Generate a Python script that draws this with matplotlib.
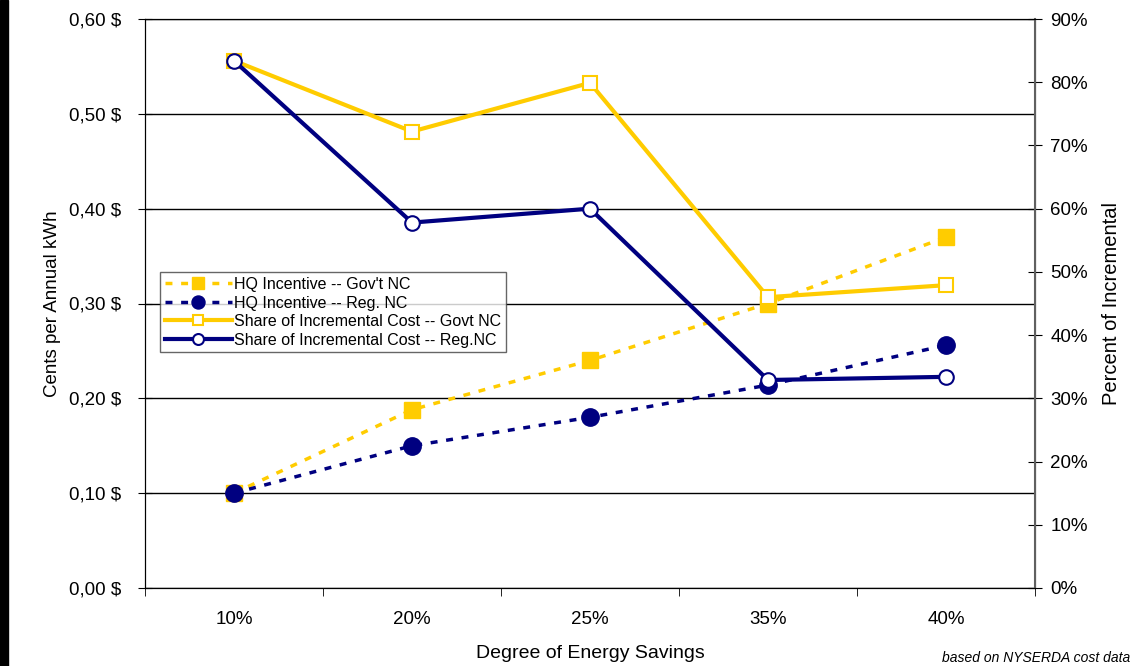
import numpy as np
import matplotlib
matplotlib.use("Agg")
import matplotlib.pyplot as plt
from matplotlib.ticker import FuncFormatter
from matplotlib.patches import Rectangle

plt.rcParams['font.family'] = ['Liberation Sans', 'DejaVu Sans']

savings = ['10%', '20%', '25%', '35%', '40%']
hq_gov = [0.10, 0.188, 0.24, 0.30, 0.37]
hq_reg = [0.10, 0.15, 0.18, 0.214, 0.256]
share_gov = [83.4, 72.2, 79.9, 46.0, 47.9]
share_reg = [83.4, 57.8, 60.0, 32.9, 33.4]

gold = '#FFCC00'
navy = '#000080'

fig = plt.figure(figsize=(11.45, 6.66), dpi=100)
ax = fig.add_axes([145 / 1145, 78 / 666, 890 / 1145, 569 / 666])
ax2 = ax.twinx()

x = np.arange(len(savings))

# incentives on the left axis ($ per annual kWh)
ax.plot(x, hq_gov, color=gold, lw=2.5, ls=(0, (2, 2.5)), marker='s', ms=12,
        mec=gold, mfc=gold, label="HQ Incentive -- Gov't NC", zorder=3)
ax.plot(x, hq_reg, color=navy, lw=2.5, ls=(0, (2, 2.5)), marker='o', ms=12.5,
        mec=navy, mfc=navy, label='HQ Incentive -- Reg. NC', zorder=3)

# share of incremental cost on the right axis
ax2.plot(x, share_gov, color=gold, lw=3, marker='s', ms=10.5, mfc='white',
         mec=gold, mew=1.5, label='Share of Incremental Cost -- Govt NC')
ax2.plot(x, share_reg, color=navy, lw=3, marker='o', ms=10.5, mfc='white',
         mec=navy, mew=1.5, label='Share of Incremental Cost -- Reg.NC')

ax.set_xlim(-0.5, len(savings) - 0.5)
ax.set_ylim(0, 0.6)
ax2.set_ylim(0, 90)

ax.set_yticks(np.arange(0, 0.61, 0.1))
ax.yaxis.set_major_formatter(FuncFormatter(lambda v, p: f"{v:.2f} $".replace('.', ',')))
ax2.set_yticks(np.arange(0, 91, 10))
ax2.yaxis.set_major_formatter(FuncFormatter(lambda v, p: f"{v:.0f}%"))

ax.set_xticks(x)
ax.set_xticklabels(savings)
ax.set_xticks(np.arange(-0.5, len(savings)), minor=True)
ax.tick_params(axis='x', which='major', length=0, pad=16.5, labelsize=13.5)
ax.tick_params(axis='x', which='minor', length=6, direction='out')
ax.tick_params(axis='y', direction='inout', length=10, labelsize=13.5, pad=12)
ax2.tick_params(axis='y', direction='inout', length=10, labelsize=13.5, pad=6)

ax.grid(axis='y', color='black', lw=1)
ax.set_axisbelow(True)
for sp in ax.spines.values():
    sp.set_color('black')
ax2.spines['right'].set_color('#606060')
ax2.spines['right'].set_linewidth(1.5)

ax.set_xlabel('Degree of Energy Savings', fontsize=14, labelpad=12)
ax.set_ylabel('Cents per Annual kWh', fontsize=13.5, labelpad=6)
ax2.set_ylabel('Percent of Incremental', fontsize=14.5, labelpad=10)

h1, l1 = ax.get_legend_handles_labels()
h2, l2 = ax2.get_legend_handles_labels()
leg = ax2.legend(h1 + h2, l1 + l2, loc='upper left', bbox_to_anchor=(0.017, 0.555),
                 fontsize=11.5, frameon=True, fancybox=False, edgecolor='#404040',
                 handlelength=4.2, handletextpad=0.1, labelspacing=0.22,
                 borderpad=0.3, borderaxespad=0, markerscale=0.75)
leg.get_frame().set_linewidth(1)

fig.text(0.987, 0.002, 'based on NYSERDA cost data', ha='right', va='bottom',
         fontsize=10, style='italic')

fig.patches.append(Rectangle((0, 0), 8 / 1145, 1, transform=fig.transFigure,
                             color='black', zorder=0))

fig.savefig('out.png', dpi=100)
